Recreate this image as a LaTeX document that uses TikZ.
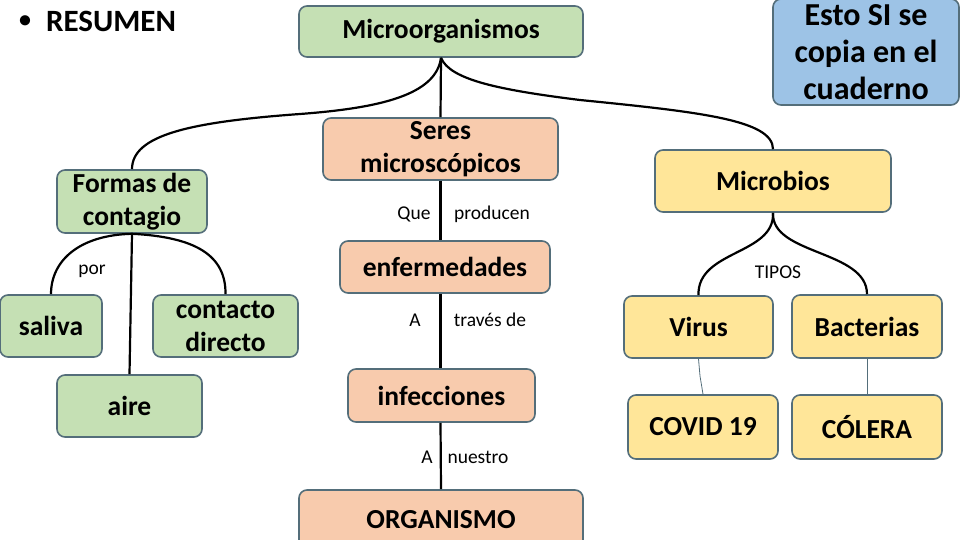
\documentclass[tikz,border=0pt]{standalone}
\usepackage{fontspec}
\setmainfont{Carlito}
\usepackage{tikz}
\definecolor{verde}{RGB}{197,224,180}
\definecolor{salmon}{RGB}{248,203,173}
\definecolor{amarillo}{RGB}{255,230,153}
\definecolor{celeste}{RGB}{157,195,230}
\definecolor{borde}{RGB}{84,110,122}
\tikzset{
	caja/.style={draw=borde, line width=1.6pt, rounded corners=8pt, align=center, inner sep=0pt,
		font=\bfseries\fontsize{27.5}{33}\selectfont},
	enlace/.style={line width=2.2pt, black},
	fino/.style={line width=0.8pt, borde},
	etiq/.style={font=\fontsize{19.5}{21}\selectfont, inner sep=1pt}
}

\begin{document}
\begin{tikzpicture}[x=1pt, y=-1pt]
		\clip (0,0) rectangle (960,540);
		\fill[white] (0,0) rectangle (960,540);
		\node[font=\bfseries\fontsize{31}{34}\selectfont, anchor=west, inner sep=0pt] (titulo) at (19,21) {\raisebox{4pt}{\fontsize{24}{24}\selectfont\textbullet}\hspace{15pt}RESUMEN};
		\draw (441,31.5) node[caja, fill=verde, minimum width=284, minimum height=51] (micro) {Microorganismos}
		(866,52) node[caja, fill=celeste, minimum width=186, minimum height=106, font=\bfseries\fontsize{32}{37}\selectfont] (esto) {Esto SI se\\copia en el\\cuaderno}
		(440.5,149) node[caja, fill=salmon, minimum width=235, minimum height=62] (seres) {Seres\\microscópicos}
		(132,201.5) node[caja, fill=verde, minimum width=150, minimum height=63] (formas) {Formas de\\contagio}
		(773,181) node[caja, fill=amarillo, minimum width=236, minimum height=62] (microbios) {Microbios}
		(445,267) node[caja, fill=salmon, minimum width=210, minimum height=52] (enferm) {enfermedades}
		(51,326) node[caja, fill=verde, minimum width=102, minimum height=62] (saliva) {saliva}
		(225.5,326) node[caja, fill=verde, minimum width=145, minimum height=62] (contacto) {contacto\\directo}
		(129.5,406) node[caja, fill=verde, minimum width=145, minimum height=62] (aire) {aire}
		(441.5,395.5) node[caja, fill=salmon, minimum width=187, minimum height=53] (infec) {infecciones}
		(441,520) node[caja, fill=salmon, minimum width=284, minimum height=60] (organismo) {ORGANISMO}
		(698.5,327) node[caja, fill=amarillo, minimum width=149, minimum height=62] (virus) {Virus}
		(867,326.5) node[caja, fill=amarillo, minimum width=150, minimum height=63] (bacterias) {Bacterias}
		(703,427) node[caja, fill=amarillo, minimum width=150, minimum height=64] (covid) {COVID 19}
		(867,427) node[caja, fill=amarillo, minimum width=150, minimum height=64] (colera) {CÓLERA};

		% etiquetas de los enlaces
		\node[etiq] (que) at (414,214) {Que};
		\node[etiq] (producen) at (492,214) {producen};
		\node[etiq] (a1) at (415,320) {A};
		\node[etiq] (traves) at (490,320) {través de};
		\node[etiq] (a2) at (427,457) {A};
		\node[etiq] (nuestro) at (478,457) {nuestro};
		\node[etiq] (por) at (92,271) {por};
		\node[etiq] (tipos) at (778,272) {TIPOS};

		\draw[enlace] (micro.south) .. controls (436,95) and (380,108) .. (300,114)
			.. controls (190,122) and (132,135) .. (formas.north);
		\draw[enlace] (micro.south) .. controls (450,80) and (500,90) .. (580,100)
			.. controls (700,112) and (773,120) .. (microbios.north);
		\draw[enlace] (micro.south) -- (seres.north);
		\draw[enlace] (seres.south) -- (enferm.north -| seres.south);
		\draw[enlace] (enferm.south -| seres.south) -- (infec.north -| seres.south);
		\draw[enlace] (infec.south -| seres.south) -- (organismo.north);
		\draw[enlace] (formas.south) .. controls (80,235) and (51,260) .. (saliva.north);
		\draw[enlace] (formas.south) .. controls (195,237) and (226,255) .. (contacto.north);
		\draw[enlace] (formas.south) -- (aire.north);
		\draw[enlace] (microbios.south) .. controls (775,255) and (697,250) .. (virus.north);
		\draw[enlace] (microbios.south) .. controls (771,255) and (867,250) .. (bacterias.north);
		\draw[fino] (virus.south) -- (700,376) -- (covid.north);
		\draw[fino] (bacterias.south) -- (colera.north);
	\end{tikzpicture}
\end{document}
